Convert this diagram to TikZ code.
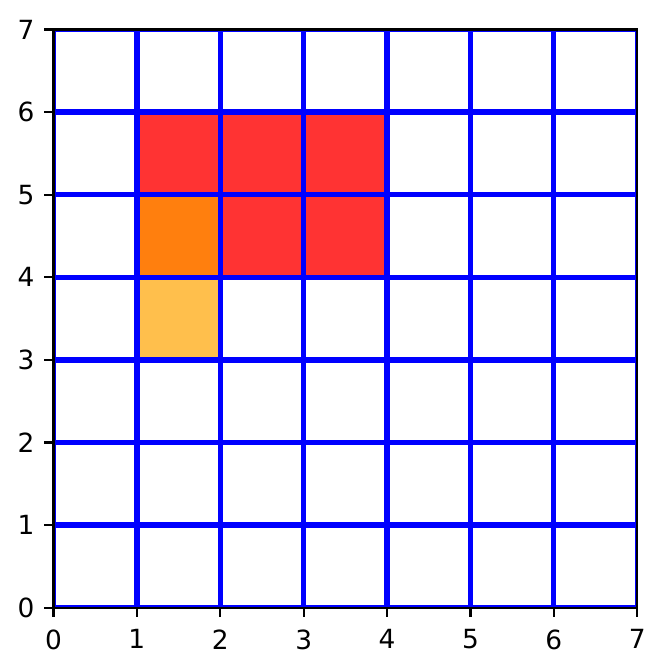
\documentclass[tikz,border=0pt]{standalone}
\usepackage{fontspec}
\setmainfont{DejaVu Sans}
\definecolor{cellred}{RGB}{255,51,51}
\definecolor{cellorange}{RGB}{255,127,14}
\definecolor{cellyellow}{RGB}{255,191,76}
\definecolor{gridblue}{RGB}{0,0,255}
\tikzset{
  gridline/.style={draw=gridblue, line width=2pt, line cap=butt},
  spine/.style={draw=black, line width=0.8pt, line cap=rect},
  tickmark/.style={draw=black, line width=0.8pt},
  xlab/.style={anchor=north, inner sep=0pt, font=\fontsize{10}{12}\selectfont},
  ylab/.style={anchor=east, inner sep=0pt, font=\fontsize{10}{12}\selectfont},
}
\begin{document}
\begin{tikzpicture}[x=31.59pt,y=31.29pt]
\useasboundingbox (-20.27pt,-23.98pt) rectangle (231.63pt,230.22pt);
% filled cells
\fill[cellred] (1,5) rectangle (2,6);
\fill[cellred] (2,5) rectangle (3,6);
\fill[cellred] (3,5) rectangle (4,6);
\fill[cellred] (2,4) rectangle (3,5);
\fill[cellred] (3,4) rectangle (4,5);
\fill[cellorange] (1,4) rectangle (2,5);
\fill[cellyellow] (1,3) rectangle (2,4);
% grid
\begin{scope}
\clip (0,0) rectangle (7,7);
\foreach \i in {0,...,7} {
  \draw[gridline] (\i,0) -- (\i,7);
  \draw[gridline] (0,\i) -- (7,\i);
}
\end{scope}
% spines
\draw[spine] (0,0) rectangle (7,7);
% ticks and labels
\foreach \i in {0,...,7} {
  \coordinate (xt\i) at (\i,0);
  \coordinate (yt\i) at (0,\i);
  \draw[tickmark] (xt\i) -- ++(0,-3.5pt);
  \draw[tickmark] (yt\i) -- ++(-3.5pt,0);
  \node[xlab] (xl\i) at ([yshift=-8.1pt]xt\i) {\i};
  \node[ylab] (yl\i) at ([xshift=-7pt]yt\i) {\i};
}
\end{tikzpicture}
\end{document}
